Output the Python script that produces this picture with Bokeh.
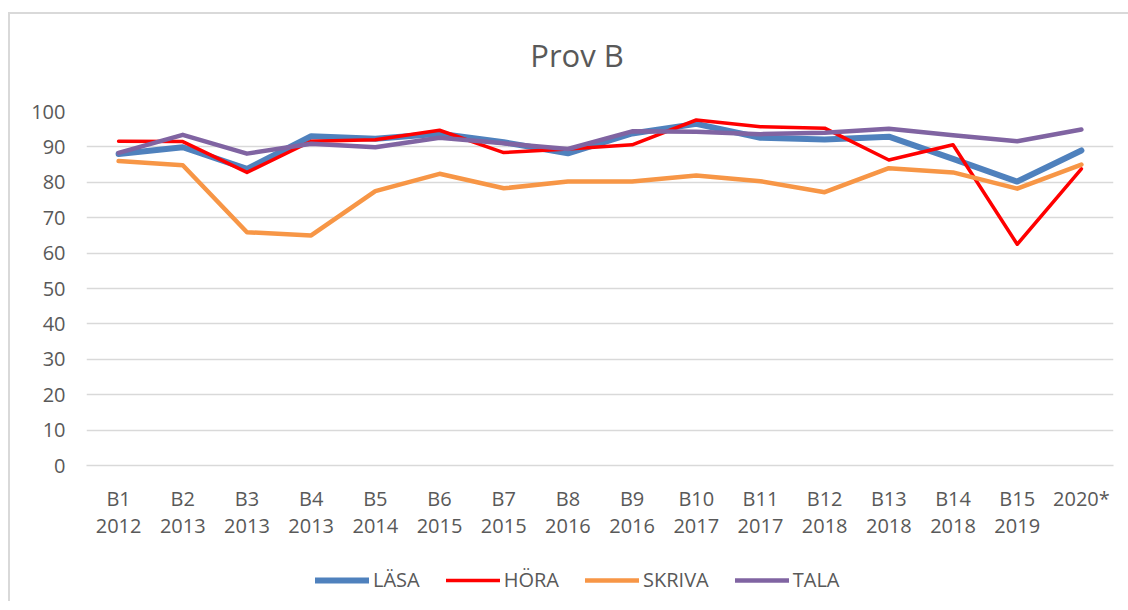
from bokeh.plotting import figure
from bokeh.layouts import column
from bokeh.models import FactorRange, Range1d, FixedTicker, Legend, LegendItem, Label
from bokeh.embed import file_html
from bokeh.resources import INLINE

tests = ["B1", "B2", "B3", "B4", "B5", "B6", "B7", "B8", "B9", "B10", "B11", "B12", "B13", "B14", "B15", "2020*"]
years = ["2012", "2013", "2013", "2013", "2014", "2015", "2015", "2016", "2016", "2017", "2017", "2018", "2018", "2018", "2019", ""]

lasa = [88.0, 89.9, 83.8, 93.0, 92.3, 93.7, 91.3, 88.2, 93.8, 96.5, 92.6, 92.1, 92.9, 86.6, 80.2, 89.0]
hora = [91.6, 91.5, 82.8, 91.6, 92.0, 94.7, 88.4, 89.4, 90.6, 97.6, 95.7, 95.3, 86.3, 90.6, 62.5, 83.8]
skriva = [86.0, 84.8, 65.9, 65.0, 77.5, 82.4, 78.3, 80.2, 80.2, 81.9, 80.3, 77.2, 84.0, 82.8, 78.2, 85.0]
tala = [88.3, 93.4, 88.1, 90.9, 89.9, 92.6, 91.0, 89.4, 94.4, 94.3, 93.6, 94.0, 95.1, 93.3, 91.6, 94.9]

title_text = "Prov B"
series_names = ["LÄSA", "HÖRA", "SKRIVA", "TALA"]
colors = ["#4F81BD", "#FF0000", "#F79646", "#8064A2"]
widths = [6, 3.5, 4.5, 4.5]

cats = [t + "\n" + y if y else t for t, y in zip(tests, years)]

FONT = "Open Sans"
TXT = "#595959"
GRID = "#D9D9D9"

def strip(h):
    s = figure(width=1118, height=h, x_range=Range1d(0, 1), y_range=Range1d(0, 1),
               output_backend="svg", toolbar_location=None, x_axis_location=None, y_axis_location=None,
               min_border=0, min_border_left=0, min_border_right=0, min_border_top=0, min_border_bottom=0)
    s.outline_line_color = None
    s.xgrid.visible = False
    s.ygrid.visible = False
    return s

# title strip (its frame is aligned with the chart's frame by the column layout)
t = strip(80)
t.add_layout(Label(x=490.5, y=40, x_units="screen", y_units="screen", text=title_text,
                   text_align="center", text_baseline="middle", text_font=FONT,
                   text_font_size="31px", text_color=TXT))

# main chart
p = figure(width=1118, height=451, x_range=FactorRange(*cats, range_padding=0),
           y_range=Range1d(0, 100), output_backend="svg", toolbar_location=None,
           min_border_left=76, min_border_right=15, min_border_top=17, min_border_bottom=80)
p.outline_line_color = None
p.xgrid.grid_line_color = None
p.ygrid.grid_line_color = GRID
p.ygrid.grid_line_width = 1.5
p.yaxis.ticker = FixedTicker(ticks=list(range(0, 101, 10)))
p.yaxis.axis_line_color = None
p.yaxis.major_tick_line_color = None
p.yaxis.minor_tick_line_color = None
p.yaxis.major_label_standoff = 15
p.xaxis.axis_line_color = GRID
p.xaxis.axis_line_width = 1.5
p.xaxis.major_tick_line_color = None
p.xaxis.minor_tick_line_color = None
p.xaxis.major_label_standoff = 13
p.xaxis.major_label_text_line_height = 1.0
for ax in (p.xaxis, p.yaxis):
    ax.major_label_text_font = FONT
    ax.major_label_text_font_size = "20px"
    ax.major_label_text_color = TXT

for vals, c, w in zip([lasa, hora, skriva, tala], colors, widths):
    p.line(cats, vals, line_color=c, line_width=w, line_cap="round", line_join="round")

# legend strip below the chart (its lines lie outside the strip's visible range)
q = strip(56)
items = []
for name, vals, c, w in zip(series_names, [lasa, hora, skriva, tala], colors, widths):
    r = q.line(list(range(len(vals))), vals, line_color=c, line_width=w, line_cap="round")
    items.append(LegendItem(label=name, renderers=[r]))
legend = Legend(items=items, orientation="horizontal", location=(229, 8),
                glyph_width=54, glyph_height=20, label_standoff=4, spacing=26,
                padding=0, margin=0, border_line_color=None, background_fill_alpha=0,
                label_text_font=FONT, label_text_font_size="20px", label_text_color=TXT)
q.add_layout(legend)

layout = column(t, p, q, spacing=0)
layout.styles = {"border-left": "2px solid #D9D9D9", "border-top": "2px solid #D9D9D9",
                 "margin-left": "8px", "margin-top": "12px"}

open("out.html", "w").write(file_html(layout, INLINE))
